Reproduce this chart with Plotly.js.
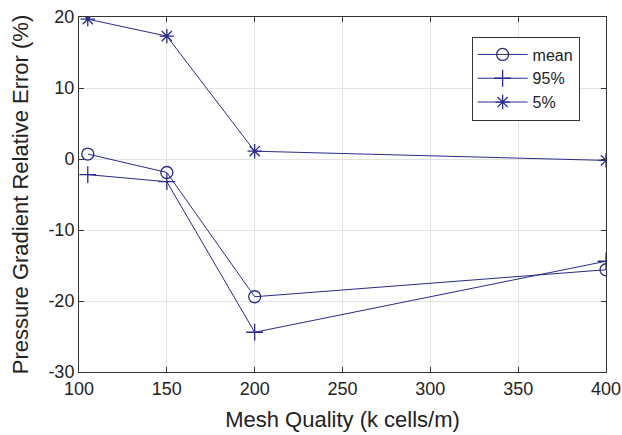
<!DOCTYPE html>
<html><head><meta charset="utf-8">
<script src="https://cdn.plot.ly/plotly-3.0.1.min.js"></script>
<style>html,body{margin:0;padding:0;background:#fff}</style>
</head><body><div id="c" style="width:622px;height:435px"></div>
<script>
const meshQuality = [105, 150, 200, 400];
const meanErr = [0.7, -1.9, -19.4, -15.6];
const p95Err = [-2.2, -3.2, -24.4, -14.4];
const p5Err = [19.7, 17.3, 1.1, -0.2];
const seriesNames = ['mean', '95%', '5%'];
const xTicks = [100, 150, 200, 250, 300, 350, 400];
const yTicks = [-30, -20, -10, 0, 10, 20];
const yTickText = ['-30', '-20', '-10', '0', '10', '20'];

const col = '#2a2a8c';
const mk = (y, name, sym) => ({
  x: meshQuality, y: y, name: name, type: 'scatter', mode: 'lines+markers',
  line: {color: col, width: 1},
  marker: {symbol: sym, size: 12, color: col, line: {color: col, width: 1.3}}
});
const data = [
  mk(meanErr, seriesNames[0], 'circle-open'),
  mk(p95Err, seriesNames[1], 'cross-thin-open'),
  mk(p5Err, seriesNames[2], 'asterisk-open')
];
const ax = {
  showline: true, mirror: 'ticks', linecolor: '#333', linewidth: 1,
  ticks: 'inside', ticklen: 5, tickcolor: '#333',
  showgrid: true, gridcolor: '#e3e3e3', gridwidth: 1, zeroline: false,
  tickfont: {size: 18, color: '#222'}, ticklabeloverflow: 'allow'
};
const layout = {
  width: 622, height: 435,
  margin: {l: 79, r: 16, t: 17, b: 63},
  paper_bgcolor: '#fff', plot_bgcolor: '#fff',
  font: {family: 'Liberation Sans, Arial, sans-serif', color: '#222'},
  xaxis: Object.assign({}, ax, {range: [100, 400], tickvals: xTicks,
    title: {text: 'Mesh Quality (k cells/m)', font: {size: 22}, standoff: 14}}),
  yaxis: Object.assign({}, ax, {range: [-30, 20], tickvals: yTicks, ticktext: yTickText,
    title: {text: 'Pressure Gradient Relative Error (%)', font: {size: 22}, standoff: 13}}),
  showlegend: true,
  legend: {x: 0.745, y: 0.945, xanchor: 'left', yanchor: 'top',
    bgcolor: '#fff', bordercolor: '#333', borderwidth: 1,
    font: {size: 16, color: '#222'}, itemwidth: 50, tracegroupgap: 0}
};
Plotly.newPlot('c', data, layout, {displayModeBar: false, staticPlot: true});
</script></body></html>
